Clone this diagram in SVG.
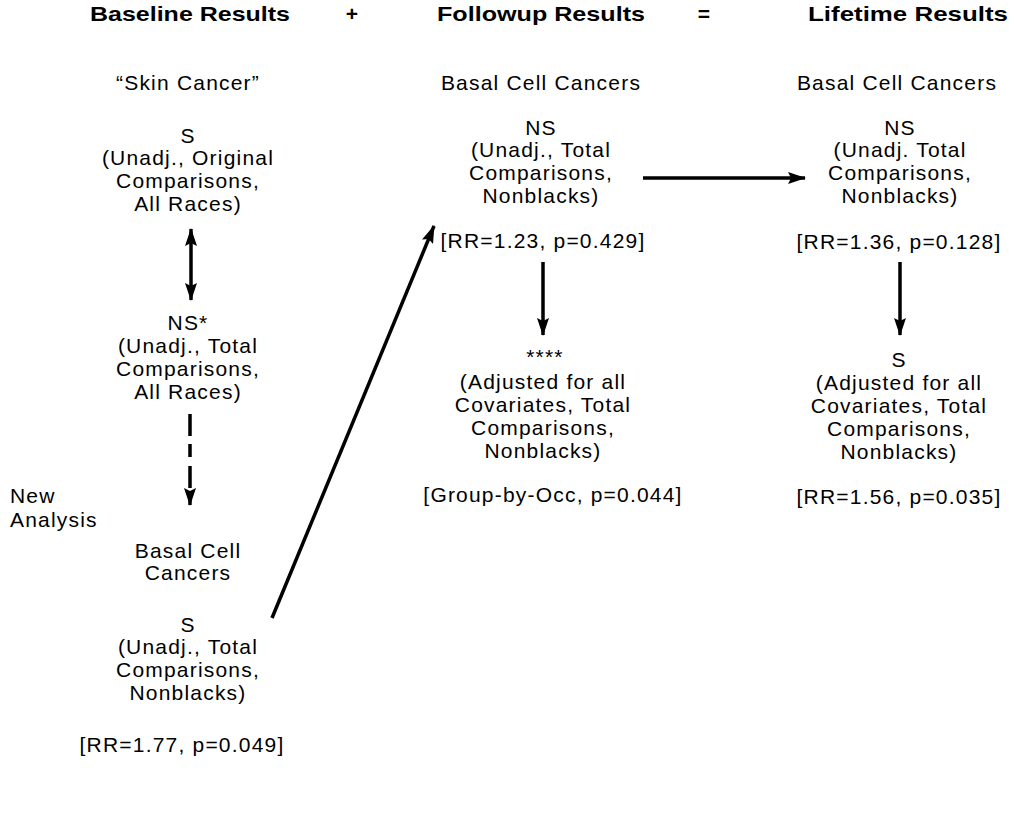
<svg xmlns="http://www.w3.org/2000/svg" width="1015" height="815" viewBox="0 0 1015 815">
<style>
  text { font-family: "Liberation Sans", Arial, sans-serif; fill: #000; }
  .h { font-size: 21px; font-weight: bold; }
  .t { font-size: 21px; text-anchor: middle; letter-spacing: 1.2px; }
  .l { font-size: 21px; letter-spacing: 1.2px; }
  .c { stroke: #000; stroke-width: 3.5; fill: none; }
</style>
<defs>
  <marker id="ah" markerUnits="userSpaceOnUse" markerWidth="18" markerHeight="12" refX="17" refY="6" orient="auto-start-reverse">
    <path d="M0,0 L18,6 L0,12 L3,6 Z" fill="#000"/>
  </marker>
</defs>
<rect width="1015" height="815" fill="#fff"/>

<g id="header">
  <text class="h" x="90" y="21" textLength="200" lengthAdjust="spacingAndGlyphs">Baseline Results</text>
  <text class="h" x="352" y="21" text-anchor="middle">+</text>
  <text class="h" x="437" y="21" textLength="208" lengthAdjust="spacingAndGlyphs">Followup Results</text>
  <text class="h" x="704" y="21" text-anchor="middle">=</text>
  <text class="h" x="808" y="21" textLength="200" lengthAdjust="spacingAndGlyphs">Lifetime Results</text>
</g>

<g id="baseline-skin">
  <text class="t" x="188" y="90">“Skin Cancer”</text>
</g>
<g id="baseline-s">
  <text class="t" x="188" y="143">S</text>
  <text class="t" x="188" y="165">(Unadj., Original</text>
  <text class="t" x="188" y="188">Comparisons,</text>
  <text class="t" x="188" y="211">All Races)</text>
</g>
<g id="baseline-ns">
  <text class="t" x="188" y="330">NS*</text>
  <text class="t" x="188" y="353">(Unadj., Total</text>
  <text class="t" x="188" y="376">Comparisons,</text>
  <text class="t" x="188" y="399">All Races)</text>
</g>
<g id="new-analysis">
  <text class="l" x="10" y="503">New</text>
  <text class="l" x="10" y="527">Analysis</text>
</g>
<g id="baseline-basal">
  <text class="t" x="188" y="558">Basal Cell</text>
  <text class="t" x="188" y="580">Cancers</text>
  <text class="t" x="188" y="632">S</text>
  <text class="t" x="188" y="654">(Unadj., Total</text>
  <text class="t" x="188" y="677">Comparisons,</text>
  <text class="t" x="188" y="700">Nonblacks)</text>
  <text class="t" x="182" y="752">[RR=1.77, p=0.049]</text>
</g>

<g id="followup-unadj">
  <text class="t" x="541" y="90">Basal Cell Cancers</text>
  <text class="t" x="541" y="135">NS</text>
  <text class="t" x="541" y="157">(Unadj., Total</text>
  <text class="t" x="541" y="180">Comparisons,</text>
  <text class="t" x="541" y="203">Nonblacks)</text>
  <text class="t" x="543" y="248">[RR=1.23, p=0.429]</text>
</g>
<g id="followup-adj">
  <text class="t" x="545" y="364">****</text>
  <text class="t" x="543" y="389">(Adjusted for all</text>
  <text class="t" x="543" y="412">Covariates, Total</text>
  <text class="t" x="543" y="435">Comparisons,</text>
  <text class="t" x="543" y="458">Nonblacks)</text>
  <text class="t" x="553" y="502">[Group-by-Occ, p=0.044]</text>
</g>

<g id="lifetime-unadj">
  <text class="t" x="897" y="90">Basal Cell Cancers</text>
  <text class="t" x="900" y="135">NS</text>
  <text class="t" x="900" y="157">(Unadj. Total</text>
  <text class="t" x="900" y="180">Comparisons,</text>
  <text class="t" x="900" y="203">Nonblacks)</text>
  <text class="t" x="899" y="249">[RR=1.36, p=0.128]</text>
</g>
<g id="lifetime-adj">
  <text class="t" x="899" y="367">S</text>
  <text class="t" x="899" y="390">(Adjusted for all</text>
  <text class="t" x="899" y="413">Covariates, Total</text>
  <text class="t" x="899" y="436">Comparisons,</text>
  <text class="t" x="899" y="459">Nonblacks)</text>
  <text class="t" x="899" y="504">[RR=1.56, p=0.035]</text>
</g>

<g id="connectors">
  <line class="c" x1="191" y1="229" x2="191" y2="300" marker-start="url(#ah)" marker-end="url(#ah)"/>
  <line class="c" x1="190" y1="414" x2="190" y2="505" stroke-dasharray="22 8 13 9" marker-end="url(#ah)"/>
  <line class="c" x1="272" y1="618" x2="434" y2="226" stroke-width="3" marker-end="url(#ah)"/>
  <line class="c" x1="643" y1="178" x2="805" y2="178" marker-end="url(#ah)"/>
  <line class="c" x1="543" y1="262" x2="543" y2="335" marker-end="url(#ah)"/>
  <line class="c" x1="900" y1="262" x2="900" y2="335" marker-end="url(#ah)"/>
</g>
</svg>
